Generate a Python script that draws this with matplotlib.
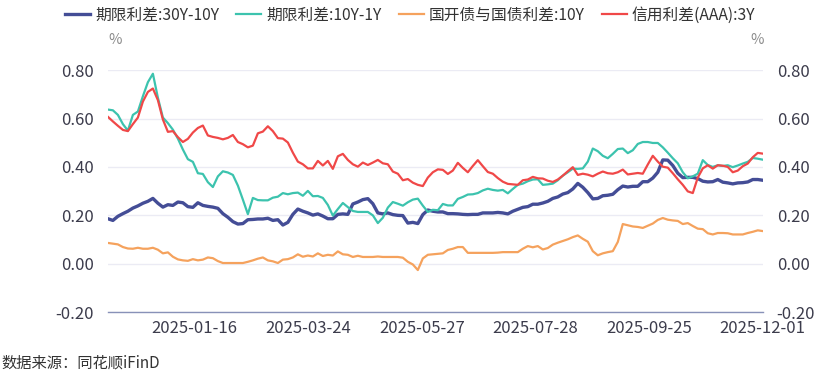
import numpy as np
import matplotlib
matplotlib.use('Agg')
import matplotlib.pyplot as plt

plt.rcParams['font.family'] = ['Noto Sans CJK SC', 'DejaVu Sans']

# Series names (legend)
names = ['期限利差:30Y-10Y', '期限利差:10Y-1Y', '国开债与国债利差:10Y', '信用利差(AAA):3Y']

# Spread values (%), sampled about every two trading days, 2024-12 to 2025-12-01
term_30y_10y = [
  0.186, 0.179, 0.196, 0.207, 0.217, 0.230, 0.239, 0.250, 0.258, 0.270, 0.250, 0.234, 0.244, 0.241, 0.255, 0.252,
  0.236, 0.233, 0.252, 0.241, 0.237, 0.234, 0.229, 0.207, 0.192, 0.174, 0.164, 0.166, 0.182, 0.183, 0.185, 0.185,
  0.188, 0.179, 0.182, 0.160, 0.171, 0.204, 0.226, 0.217, 0.210, 0.201, 0.206, 0.197, 0.186, 0.186, 0.204, 0.206,
  0.204, 0.247, 0.255, 0.265, 0.269, 0.248, 0.210, 0.206, 0.210, 0.203, 0.200, 0.199, 0.168, 0.171, 0.166, 0.203,
  0.222, 0.217, 0.214, 0.214, 0.207, 0.207, 0.206, 0.204, 0.203, 0.204, 0.204, 0.210, 0.210, 0.210, 0.212, 0.210,
  0.206, 0.217, 0.225, 0.233, 0.236, 0.246, 0.246, 0.251, 0.258, 0.270, 0.276, 0.288, 0.294, 0.309, 0.332, 0.316,
  0.294, 0.268, 0.270, 0.281, 0.283, 0.287, 0.306, 0.321, 0.317, 0.320, 0.320, 0.339, 0.339, 0.354, 0.378, 0.429,
  0.428, 0.406, 0.374, 0.356, 0.357, 0.357, 0.352, 0.341, 0.338, 0.339, 0.348, 0.337, 0.334, 0.330, 0.334, 0.335,
  0.338, 0.348, 0.348, 0.345,
]
term_10y_1y = [
  0.637, 0.634, 0.615, 0.577, 0.550, 0.615, 0.629, 0.692, 0.750, 0.785, 0.686, 0.604, 0.581, 0.554, 0.517, 0.472,
  0.432, 0.421, 0.374, 0.371, 0.337, 0.317, 0.361, 0.382, 0.377, 0.367, 0.323, 0.265, 0.205, 0.272, 0.263, 0.262,
  0.262, 0.273, 0.277, 0.292, 0.287, 0.292, 0.294, 0.281, 0.301, 0.279, 0.280, 0.272, 0.243, 0.199, 0.226, 0.251,
  0.234, 0.218, 0.214, 0.214, 0.214, 0.200, 0.168, 0.190, 0.232, 0.255, 0.248, 0.240, 0.254, 0.265, 0.269, 0.240,
  0.214, 0.223, 0.221, 0.247, 0.241, 0.241, 0.268, 0.276, 0.286, 0.287, 0.292, 0.303, 0.310, 0.305, 0.302, 0.305,
  0.291, 0.309, 0.326, 0.331, 0.341, 0.348, 0.349, 0.326, 0.328, 0.331, 0.345, 0.364, 0.378, 0.393, 0.392, 0.394,
  0.422, 0.476, 0.465, 0.446, 0.436, 0.454, 0.474, 0.476, 0.457, 0.469, 0.495, 0.503, 0.503, 0.499, 0.499, 0.481,
  0.459, 0.436, 0.415, 0.378, 0.353, 0.361, 0.372, 0.428, 0.408, 0.400, 0.407, 0.404, 0.407, 0.399, 0.406, 0.414,
  0.421, 0.437, 0.434, 0.430,
]
cdb_vs_govt_10y = [
  0.086, 0.083, 0.080, 0.069, 0.063, 0.062, 0.066, 0.062, 0.062, 0.066, 0.058, 0.043, 0.047, 0.029, 0.018, 0.014,
  0.012, 0.019, 0.014, 0.017, 0.026, 0.023, 0.011, 0.003, 0.003, 0.003, 0.003, 0.003, 0.008, 0.014, 0.021, 0.026,
  0.014, 0.010, 0.003, 0.017, 0.019, 0.026, 0.039, 0.029, 0.034, 0.030, 0.043, 0.032, 0.037, 0.034, 0.051, 0.039,
  0.037, 0.028, 0.033, 0.028, 0.028, 0.028, 0.030, 0.028, 0.028, 0.028, 0.028, 0.025, 0.008, -0.003, -0.026, 0.022,
  0.037, 0.039, 0.041, 0.043, 0.057, 0.062, 0.069, 0.069, 0.045, 0.045, 0.045, 0.045, 0.045, 0.045, 0.046, 0.048,
  0.048, 0.048, 0.048, 0.062, 0.073, 0.068, 0.073, 0.059, 0.065, 0.079, 0.087, 0.094, 0.101, 0.110, 0.117, 0.103,
  0.091, 0.052, 0.035, 0.043, 0.048, 0.052, 0.090, 0.164, 0.159, 0.154, 0.152, 0.148, 0.157, 0.166, 0.181, 0.189,
  0.182, 0.179, 0.177, 0.164, 0.168, 0.156, 0.145, 0.143, 0.126, 0.121, 0.127, 0.127, 0.126, 0.121, 0.121, 0.121,
  0.127, 0.132, 0.138, 0.135,
]
credit_aaa_3y = [
  0.607, 0.588, 0.570, 0.553, 0.548, 0.577, 0.604, 0.670, 0.710, 0.724, 0.676, 0.596, 0.545, 0.548, 0.523, 0.503,
  0.516, 0.542, 0.561, 0.571, 0.530, 0.524, 0.520, 0.514, 0.520, 0.532, 0.503, 0.494, 0.481, 0.488, 0.539, 0.546,
  0.568, 0.548, 0.519, 0.517, 0.501, 0.459, 0.422, 0.411, 0.394, 0.394, 0.425, 0.406, 0.425, 0.392, 0.444, 0.454,
  0.429, 0.411, 0.401, 0.418, 0.408, 0.418, 0.429, 0.415, 0.411, 0.381, 0.372, 0.345, 0.350, 0.335, 0.326, 0.321,
  0.356, 0.378, 0.390, 0.388, 0.371, 0.385, 0.417, 0.396, 0.378, 0.404, 0.428, 0.403, 0.379, 0.372, 0.354, 0.339,
  0.330, 0.328, 0.326, 0.345, 0.348, 0.359, 0.353, 0.352, 0.343, 0.338, 0.348, 0.364, 0.382, 0.399, 0.367, 0.372,
  0.368, 0.361, 0.372, 0.381, 0.374, 0.372, 0.378, 0.389, 0.369, 0.372, 0.375, 0.372, 0.410, 0.446, 0.422, 0.401,
  0.397, 0.374, 0.349, 0.326, 0.299, 0.292, 0.356, 0.394, 0.407, 0.393, 0.407, 0.405, 0.400, 0.378, 0.385, 0.403,
  0.414, 0.440, 0.458, 0.455,
]

tick_labels = ['2025-01-16', '2025-03-24', '2025-05-27', '2025-07-28', '2025-09-25', '2025-12-01']

series = [term_30y_10y, term_10y_1y, cdb_vs_govt_10y, credit_aaa_3y]
colors = ['#444d96', '#3cc3ae', '#f5a25d', '#f04848']
widths = [2.4, 1.6, 1.6, 1.6]

fig = plt.figure(figsize=(8.3, 3.77), dpi=100)
ax = fig.add_axes([0.130, 0.172, 0.789, 0.642])

n = len(term_30y_10y)
x = np.arange(n)
for values, name, color, lw in zip(series, names, colors, widths):
  ax.plot(x, values, color=color, lw=lw, label=name, solid_joinstyle='round')

ax.set_xlim(0, n - 1)
ax.set_ylim(-0.2, 0.8)
yt = np.arange(-0.2, 0.81, 0.2)
ax.set_yticks(yt)
ax.set_yticklabels(['%.2f' % v for v in yt])

# ticks are spaced evenly in trading days, the last one on the last point
step = (n - 1) * 0.1735
ax.set_xticks([(n - 1) - k * step for k in range(len(tick_labels) - 1, -1, -1)])
ax.set_xticklabels(tick_labels)

for spine in ['top', 'left', 'right']:
  ax.spines[spine].set_visible(False)
ax.spines['bottom'].set_color('#8891b8')
ax.spines['bottom'].set_linewidth(1.0)
ax.grid(axis='y', color='#ebebf4', lw=1.0)
ax.set_axisbelow(True)

ax.tick_params(axis='y', length=0, pad=10, labelsize=12, labelcolor='#3c3c4c',
               labelleft=True, labelright=True)
ax.tick_params(axis='x', length=0, pad=6, labelsize=12, labelcolor='#3c3c4c')

fig.text(115 / 830, 1 - 40 / 377, '%', ha='center', va='center', fontsize=10.5, color='#8a8a8a')
fig.text(757 / 830, 1 - 40 / 377, '%', ha='center', va='center', fontsize=10.5, color='#8a8a8a')

fig.legend(loc='center', bbox_to_anchor=(0.494, 1 - 15 / 377), ncol=4, frameon=False,
           fontsize=11.3, handlelength=1.6, handletextpad=0.3, columnspacing=1.1,
           labelcolor='#333333')

fig.text(0.002, 1 - 363 / 377, '数据来源：同花顺iFinD', ha='left', va='center',
         fontsize=11, color='#333333')

fig.savefig('out.png', dpi=100)
